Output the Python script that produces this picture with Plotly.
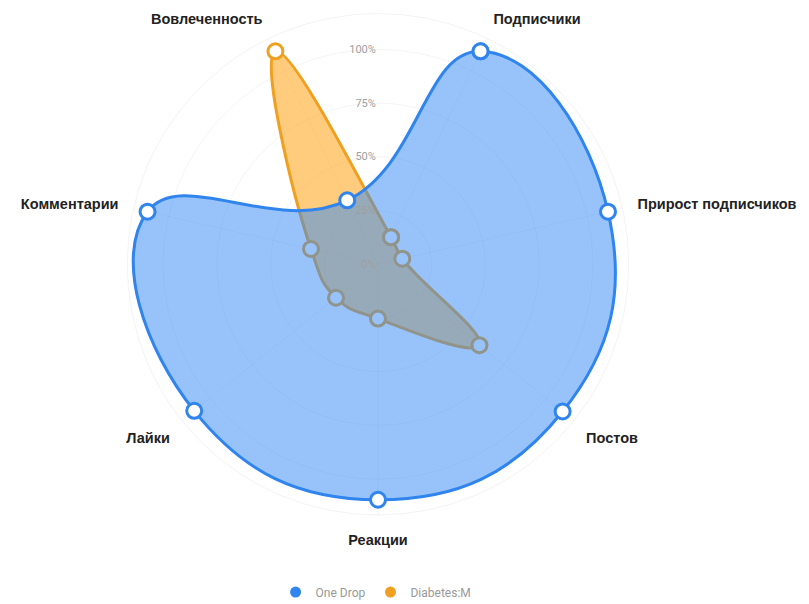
import plotly.graph_objects as go

categories = ["Подписчики", "Прирост подписчиков", "Постов", "Реакции",
              "Лайки", "Комментарии", "Вовлеченность"]
one_drop = [110.0, 109.8, 109.9, 109.6, 109.4, 110.0, 33.0]
diabetes_m = [14.0, 11.6, 60.4, 25.3, 25.0, 32.0, 110.0]
radial_ticks = [0, 25, 50, 75, 100]
radial_labels = ["0%", "25%", "50%", "75%", "100%"]

BLUE = "#2f84ed"
ORANGE = "#f0a020"

def closed(vals):
    return list(vals) + [vals[0]]

fig = go.Figure()
fig.add_trace(go.Scatterpolar(
    r=closed(diabetes_m), theta=closed(categories), name="Diabetes:M",
    mode="lines+markers", fill="toself", showlegend=False,
    fillcolor="rgba(255,170,40,0.6)",
    line=dict(color=ORANGE, width=3, shape="spline", smoothing=1.3),
    marker=dict(size=15, color="white", line=dict(color=ORANGE, width=3)),
))
fig.add_trace(go.Scatterpolar(
    r=closed(one_drop), theta=closed(categories), name="One Drop",
    mode="lines+markers", fill="toself", showlegend=False,
    fillcolor="rgba(47,136,245,0.5)",
    line=dict(color=BLUE, width=3, shape="spline", smoothing=1.3),
    marker=dict(size=15, color="white", line=dict(color=BLUE, width=3)),
))
# legend entries (filled circles only)
fig.add_trace(go.Scatterpolar(r=[None], theta=[categories[0]], name="One Drop",
                              mode="markers", hoverinfo="skip",
                              marker=dict(size=11, color=BLUE)))
fig.add_trace(go.Scatterpolar(r=[None], theta=[categories[0]], name="Diabetes:M",
                              mode="markers", hoverinfo="skip",
                              marker=dict(size=11, color=ORANGE)))

fig.update_layout(
    width=809, height=604,
    margin=dict(l=0, r=0, t=0, b=0),
    paper_bgcolor="white",
    font=dict(family="Roboto, Arial, sans-serif"),
    polar=dict(
        domain=dict(x=[0.1471, 0.7676], y=[0.1606, 0.9909]),
        bgcolor="rgba(0,0,0,0)",
        radialaxis=dict(
            range=[0, 116.7], tickvals=radial_ticks, ticktext=radial_labels,
            angle=90, side="counterclockwise", tickangle=90,
            showline=False, ticks="",
            gridcolor="rgba(0,0,0,0.045)",
            tickfont=dict(size=11, color="#a0a0a0"),
        ),
        angularaxis=dict(
            type="category", categoryarray=categories,
            direction="clockwise", rotation=64.29,
            showline=True, linecolor="rgba(0,0,0,0.05)",
            gridcolor="rgba(0,0,0,0.04)",
            ticks="outside", ticklen=12, tickcolor="rgba(0,0,0,0)",
            tickfont=dict(family="Liberation Sans, Arial, sans-serif",
                          size=14.5, color="#222222", weight="bold"),
        ),
    ),
    showlegend=True,
    legend=dict(orientation="h", x=0.455, xanchor="center", y=0.033,
                yanchor="middle",
                font=dict(size=12, color="#999999")),
)

fig.write_html("out.html")
